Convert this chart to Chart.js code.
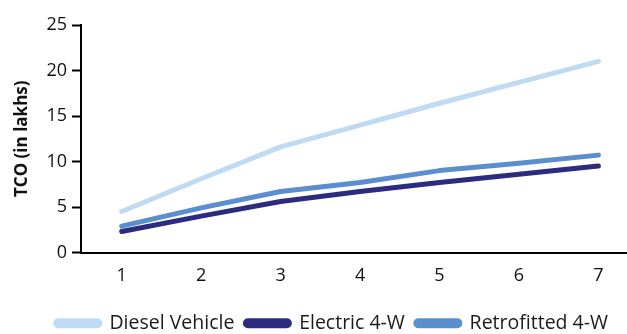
<!DOCTYPE html>
<html lang="en">
<head>
    <meta charset="UTF-8">
    <title>TCO comparison</title>
    <script src="https://cdn.jsdelivr.net/npm/chart.js@4.4.0/dist/chart.umd.min.js"></script>
    <style>
        html, body { margin: 0; padding: 0; background: #ffffff; }
        #wrap { width: 627px; height: 334px; }
    </style>
</head>
<body>
    <div id="wrap"><canvas id="tcoChart"></canvas></div>

    <script>
        // Years on the x axis
        const years = [1, 2, 3, 4, 5, 6, 7];
        // TCO in lakhs
        const diesel = [4.5, 8.1, 11.6, 14.0, 16.4, 18.7, 21.0];
        const electric = [2.3, 4.0, 5.6, 6.7, 7.7, 8.6, 9.5];
        const retrofitted = [2.9, 4.9, 6.7, 7.7, 9.0, 9.8, 10.7];
        const yTicks = [0, 5, 10, 15, 20, 25];

        const toPoints = arr => arr.map((v, i) => ({ x: years[i], y: v }));

        Chart.defaults.font.family = "'Open Sans', 'Liberation Sans', sans-serif";
        Chart.defaults.color = '#111';

        const lineDs = (label, data, color) => ({
            label: label,
            data: toPoints(data),
            borderColor: color,
            backgroundColor: color,
            borderWidth: 5,
            borderCapStyle: 'round',
            borderJoinStyle: 'round',
            pointRadius: 0,
            tension: 0
        });

        // nudge the legend row a little to the left, like the original
        const legendShift = {
            id: 'legendShift',
            afterLayout(chart) {
                chart.legend.left -= 8;
                chart.legend.right -= 8;
            }
        };

        new Chart(document.getElementById('tcoChart'), {
            type: 'line',
            data: {
                datasets: [
                    lineDs('Diesel Vehicle', diesel, '#bfdbf3'),
                    lineDs('Electric 4-W', electric, '#2c2b80'),
                    lineDs('Retrofitted 4-W', retrofitted, '#5b8ecf')
                ]
            },
            options: {
                responsive: true,
                maintainAspectRatio: false,
                animation: false,
                layout: { padding: { left: 10, right: 0, top: 25, bottom: -9 } },
                plugins: {
                    tooltip: { enabled: false },
                    legend: {
                        position: 'bottom',
                        align: 'end',
                        labels: {
                            boxWidth: 44,
                            boxHeight: 5,
                            useBorderRadius: true,
                            borderRadius: 2.5,
                            padding: 11,
                            font: { size: 19.5 },
                            color: '#1a1a1a'
                        }
                    }
                },
                scales: {
                    x: {
                        type: 'linear',
                        min: 0.4875,
                        max: 7.36,
                        afterBuildTicks: scale => { scale.ticks = years.map(v => ({ value: v })); },
                        afterFit: scale => { scale.height = 50; },
                        grid: { display: false, drawTicks: false },
                        border: { display: true, color: '#000', width: 2 },
                        ticks: { font: { size: 18 }, color: '#111', padding: 13 }
                    },
                    y: {
                        min: 0,
                        max: 25,
                        afterBuildTicks: scale => { scale.ticks = yTicks.map(v => ({ value: v })); },
                        grid: { drawOnChartArea: false, drawTicks: true, tickLength: 9, tickColor: '#000', tickWidth: 2 },
                        border: { display: true, color: '#000', width: 2 },
                        ticks: { font: { size: 18 }, color: '#111', padding: 5 },
                        title: {
                            display: true,
                            text: 'TCO (in lakhs)',
                            font: { size: 17, weight: 'bold' },
                            color: '#111',
                            padding: { top: 2, bottom: 9 }
                        }
                    }
                }
            },
            plugins: [legendShift]
        });
    </script>
</body>
</html>
